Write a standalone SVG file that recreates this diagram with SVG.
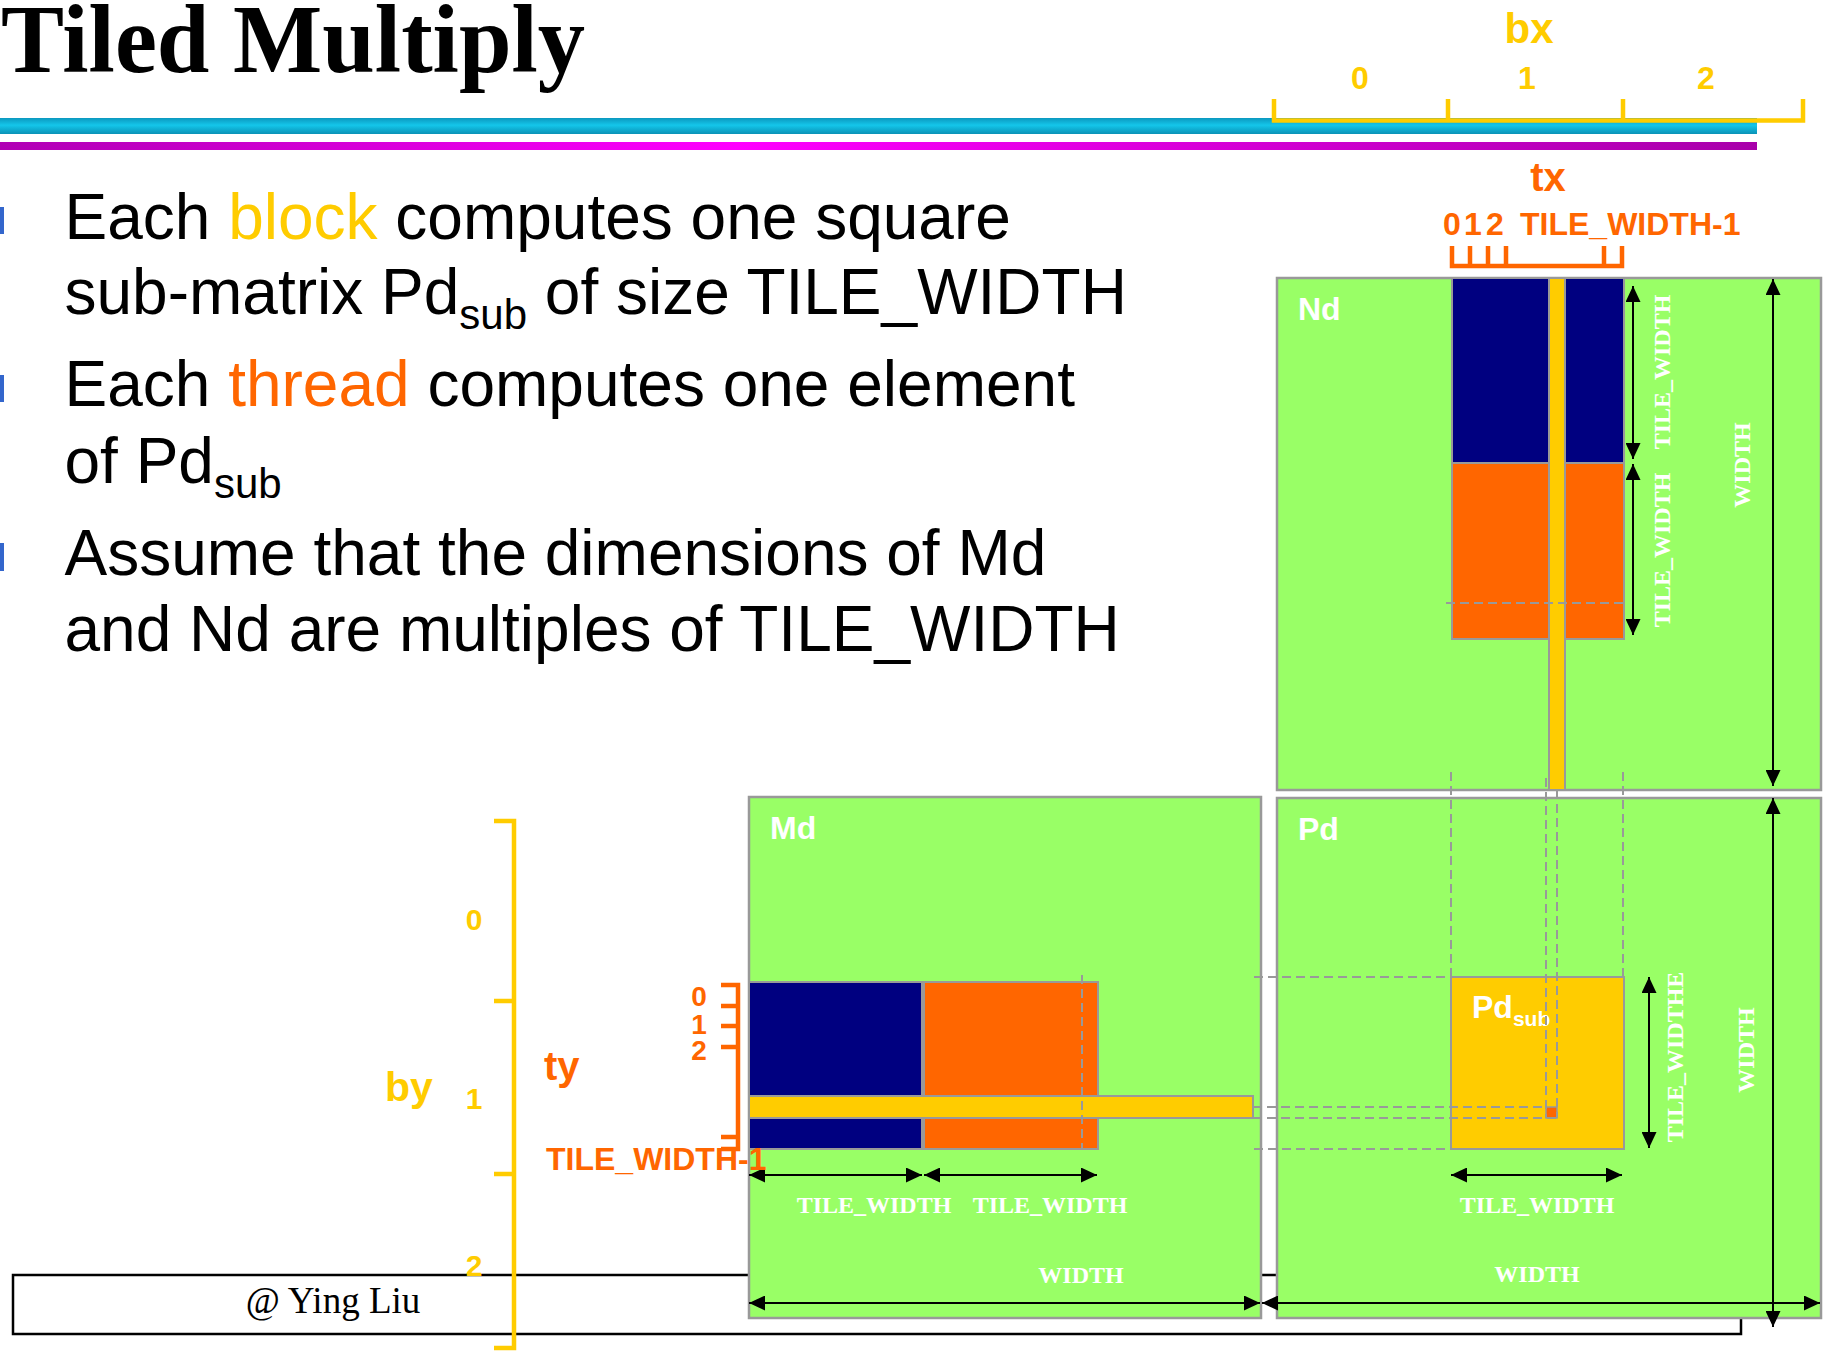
<svg xmlns="http://www.w3.org/2000/svg" width="1824" height="1351" viewBox="0 0 1824 1351">
  <defs>
    <linearGradient id="cyanRule" x1="0" y1="0" x2="0" y2="1">
      <stop offset="0" stop-color="#0c98bf"/>
      <stop offset="0.45" stop-color="#14c6ea"/>
      <stop offset="1" stop-color="#0a92b6"/>
    </linearGradient>
    <linearGradient id="magentaRule" gradientUnits="userSpaceOnUse" x1="0" y1="0" x2="1757" y2="0">
      <stop offset="0" stop-color="#b000b4"/>
      <stop offset="0.42" stop-color="#ff00ff"/>
      <stop offset="1" stop-color="#a800aa"/>
    </linearGradient>
    <marker id="head" viewBox="0 0 16 15" refX="16" refY="7.5" markerWidth="16" markerHeight="15" markerUnits="userSpaceOnUse" orient="auto-start-reverse">
      <path d="M0,0 L16,7.5 L0,15 Z" fill="#000"/>
    </marker>
    <style>
      .title { font-family: "Liberation Serif", "Times New Roman", serif; font-weight: bold; font-size: 97px; fill: #000; }
      .body { font-family: "Liberation Sans", Arial, sans-serif; font-size: 64px; fill: #000; }
      .sub { font-size: 42px; }
      .mat { fill: #99ff66; stroke: #999; stroke-width: 2.5; }
      .tileB { fill: #000080; stroke: #999; stroke-width: 2; }
      .tileO { fill: #ff6600; stroke: #999; stroke-width: 2; }
      .strip { fill: #ffcc00; stroke: #999; stroke-width: 2; }
      .name { font-family: "Liberation Sans", Arial, sans-serif; font-weight: bold; font-size: 32px; fill: #fff; }
      .dim { font-family: "Liberation Serif", "Times New Roman", serif; font-weight: bold; font-size: 24px; fill: #fff; text-anchor: middle; }
      .guide { fill: none; stroke: #999; stroke-width: 2; stroke-dasharray: 9 5; }
      .arrow { fill: none; stroke: #000; stroke-width: 2; marker-start: url(#head); marker-end: url(#head); }
      .blk { fill: none; stroke: #ffcc00; stroke-width: 4.5; }
      .thr { fill: none; stroke: #ff6600; stroke-width: 4.5; }
      .blkT { font-family: "Liberation Sans", Arial, sans-serif; font-weight: bold; fill: #ffcc00; }
      .thrT { font-family: "Liberation Sans", Arial, sans-serif; font-weight: bold; fill: #ff6600; }
    </style>
  </defs>

  <!-- heading and rules -->
  <text class="title" x="1" y="72" textLength="584" lengthAdjust="spacingAndGlyphs">Tiled Multiply</text>
  <rect x="0" y="118" width="1757" height="16" fill="url(#cyanRule)"/>
  <rect x="0" y="142" width="1757" height="8" fill="url(#magentaRule)"/>

  <!-- bullet points -->
  <g id="bullets">
    <rect x="0" y="207" width="4" height="27" fill="#3366cc"/>
    <rect x="0" y="375" width="4" height="27" fill="#3366cc"/>
    <rect x="0" y="543" width="4" height="28" fill="#3366cc"/>
    <text class="body" x="64.5" y="239">Each <tspan fill="#ffcc00">block</tspan> computes one square</text>
    <text class="body" x="64.5" y="314">sub-matrix Pd<tspan class="sub" dy="15">sub</tspan><tspan dy="-15"> of size TILE_WIDTH</tspan></text>
    <text class="body" x="64.5" y="406">Each <tspan fill="#ff6600">thread</tspan> computes one element</text>
    <text class="body" x="64.5" y="483">of Pd<tspan class="sub" dy="15">sub</tspan></text>
    <text class="body" x="64.5" y="575">Assume that the dimensions of Md</text>
    <text class="body" x="64.5" y="651">and Nd are multiples of TILE_WIDTH</text>
  </g>

  <!-- footer -->
  <g id="footer">
    <rect x="13" y="1275" width="1728" height="59" fill="#fff" stroke="#000" stroke-width="2.5"/>
    <text x="333" y="1313" font-family="'Liberation Serif', 'Times New Roman', serif" font-size="37" text-anchor="middle" fill="#000">@ Ying Liu</text>
  </g>

  <!-- block index bx -->
  <g id="bx">
    <path class="blk" d="M1274,99 V120.5 H1803 V99 M1448,99 V120.5 M1623,99 V120.5"/>
    <text class="blkT" x="1529" y="43" font-size="42" text-anchor="middle">bx</text>
    <text class="blkT" x="1360" y="89" font-size="32" text-anchor="middle">0</text>
    <text class="blkT" x="1527" y="89" font-size="32" text-anchor="middle">1</text>
    <text class="blkT" x="1706" y="89" font-size="32" text-anchor="middle">2</text>
  </g>

  <!-- thread index tx -->
  <g id="tx">
    <path class="thr" d="M1452,246 V266 H1622 V246 M1470,246 V266 M1488,246 V266 M1506,246 V266 M1604,246 V266"/>
    <text class="thrT" x="1548" y="191" font-size="40" text-anchor="middle">tx</text>
    <text class="thrT" font-size="32" text-anchor="middle" x="1452 1473 1495" y="235">012</text>
    <text class="thrT" x="1520" y="235" font-size="32">TILE_WIDTH-1</text>
  </g>

  <!-- matrix Nd -->
  <g id="Nd">
    <rect class="mat" x="1277" y="278" width="544" height="512"/>
    <rect class="tileB" x="1452" y="278" width="172" height="185"/>
    <rect class="tileO" x="1452" y="463" width="172" height="176"/>
    <rect class="strip" x="1549" y="278" width="16" height="512"/>
    <text class="name" x="1298" y="320">Nd</text>
  </g>

  <!-- matrix Md -->
  <g id="Md">
    <rect class="mat" x="749" y="797" width="512" height="521"/>
    <rect class="tileB" x="749" y="982" width="173" height="167"/>
    <rect class="tileO" x="924" y="982" width="174" height="167"/>
    <rect class="strip" x="749" y="1096" width="504" height="22"/>
    <text class="name" x="770" y="839">Md</text>
  </g>

  <!-- matrix Pd -->
  <g id="Pd">
    <rect class="mat" x="1277" y="798" width="544" height="520"/>
    <rect class="strip" x="1451" y="977" width="173" height="172"/>
    <rect x="1546" y="1107" width="11" height="11" fill="#ff6600" stroke="#999" stroke-width="1.5"/>
    <text class="name" x="1298" y="840">Pd</text>
    <text class="name" x="1472" y="1018">Pd<tspan font-size="21" dy="8">sub</tspan></text>
  </g>

  <!-- guides and dimension arrows -->
  <g id="connectors">
    <path class="guide" d="M1446,603 H1624"/>
    <path class="guide" d="M1082,975 V1149"/>
    <path class="guide" d="M1451,772 V977 M1623,772 V977"/>
    <path class="guide" d="M1546,778 V1118 M1557,790 V1118"/>
    <path class="guide" d="M1254,977 H1451 M1254,1149 H1451"/>
    <path class="guide" d="M1253,1107 H1546 M1253,1118 H1557"/>

    <line class="arrow" x1="1633" y1="286" x2="1633" y2="459"/>
    <line class="arrow" x1="1633" y1="464" x2="1633" y2="635"/>
    <line class="arrow" x1="1773" y1="279" x2="1773" y2="786"/>

    <line class="arrow" x1="749" y1="1175" x2="922" y2="1175"/>
    <line class="arrow" x1="924" y1="1175" x2="1097" y2="1175"/>
    <line class="arrow" x1="749" y1="1303" x2="1260" y2="1303"/>

    <line class="arrow" x1="1649" y1="977" x2="1649" y2="1148"/>
    <line class="arrow" x1="1451" y1="1175" x2="1622" y2="1175"/>
    <line class="arrow" x1="1773" y1="798" x2="1773" y2="1327"/>
    <line class="arrow" x1="1262" y1="1303" x2="1820" y2="1303"/>
  </g>

  <!-- dimension labels -->
  <g id="dimension-labels">
    <text class="dim" transform="translate(1670,372) rotate(-90)">TILE_WIDTH</text>
    <text class="dim" transform="translate(1670,550) rotate(-90)">TILE_WIDTH</text>
    <text class="dim" transform="translate(1750,465) rotate(-90)">WIDTH</text>
    <text class="dim" x="874" y="1213">TILE_WIDTH</text>
    <text class="dim" x="1050" y="1213">TILE_WIDTH</text>
    <text class="dim" x="1081" y="1283">WIDTH</text>
    <text class="dim" transform="translate(1683,1057) rotate(-90)">TILE_WIDTHE</text>
    <text class="dim" transform="translate(1754,1050) rotate(-90)">WIDTH</text>
    <text class="dim" x="1537" y="1213">TILE_WIDTH</text>
    <text class="dim" x="1537" y="1282">WIDTH</text>
  </g>

  <!-- block index by -->
  <g id="by">
    <path class="blk" d="M494,821 H514 V1348 H494 M494,1001 H514 M494,1174 H514"/>
    <text class="blkT" x="385" y="1101" font-size="41">by</text>
    <text class="blkT" x="474" y="930" font-size="30" text-anchor="middle">0</text>
    <text class="blkT" x="474" y="1109" font-size="30" text-anchor="middle">1</text>
    <text class="blkT" x="474" y="1276" font-size="30" text-anchor="middle">2</text>
  </g>

  <!-- thread index ty -->
  <g id="ty">
    <path class="thr" d="M721,985 H738 V1149 H721 M721,1006 H738 M721,1026 H738 M721,1047 H738 M721,1137 H738"/>
    <text class="thrT" x="544" y="1080" font-size="40">ty</text>
    <text class="thrT" x="699" y="1006" font-size="28" text-anchor="middle">0</text>
    <text class="thrT" x="699" y="1034" font-size="28" text-anchor="middle">1</text>
    <text class="thrT" x="699" y="1060" font-size="28" text-anchor="middle">2</text>
    <text class="thrT" x="546" y="1170" font-size="32">TILE_WIDTH-1</text>
  </g>
</svg>
